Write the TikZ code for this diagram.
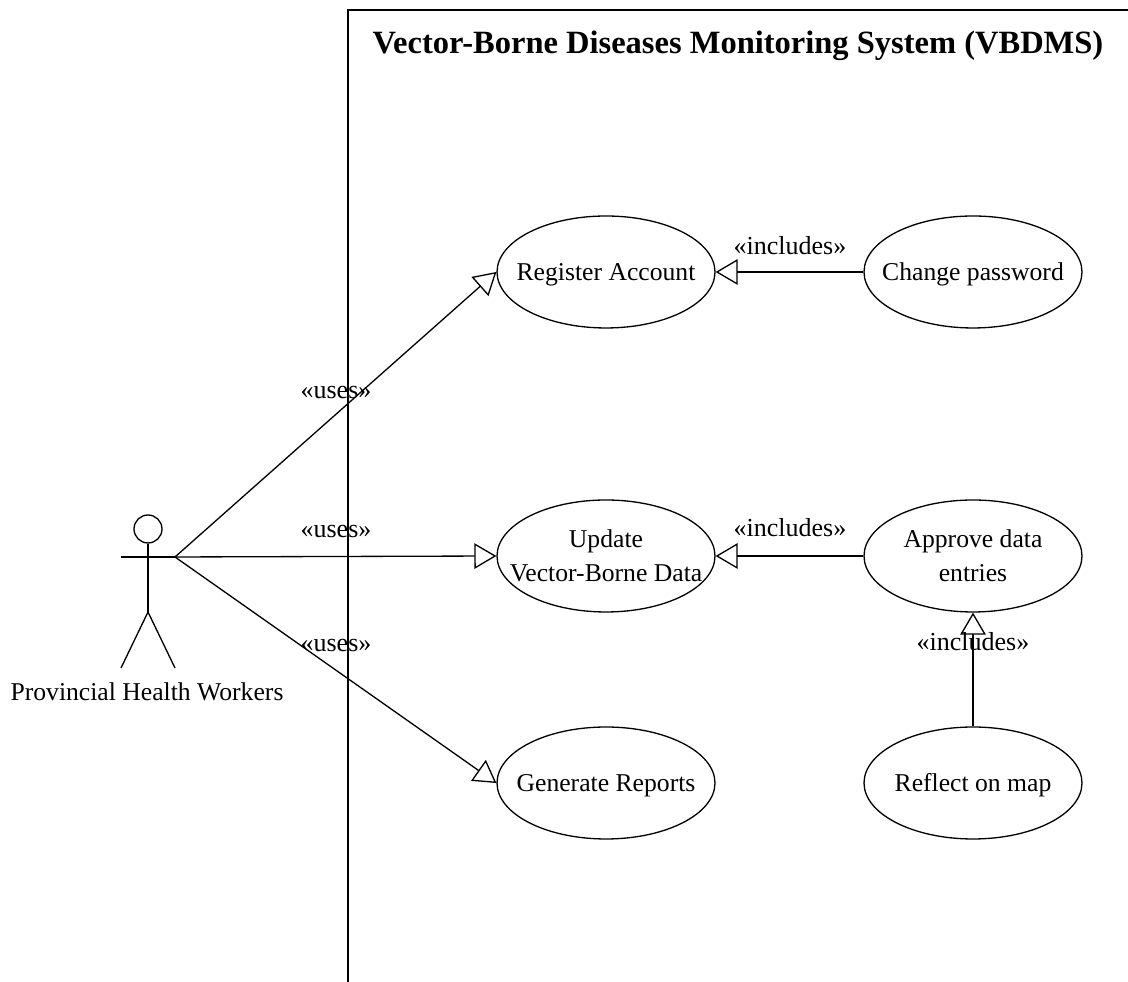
\documentclass[tikz,border=0pt]{standalone}
\usepackage{fontspec}
\setmainfont{Liberation Serif}
\usetikzlibrary{arrows.meta,shapes.geometric}
\tikzset{
  usecase/.style={draw,ellipse,minimum width=4.36cm,minimum height=2.24cm,inner xsep=-1cm,inner ysep=0pt,align=center,font=\fontsize{14.6}{19.4}\selectfont},
  oneline/.style={text height=13pt,text depth=3.2pt},
  gen/.style={-{Triangle[open,length=12.5pt,width=14.5pt]}},
  stereo/.style={font=\fontsize{14.8}{17}\selectfont,inner sep=0pt}
}
\begin{document}
\begin{tikzpicture}[x=0.02cm,y=0.02cm,line width=0.75pt]
      \useasboundingbox (0,0) rectangle (1128,982);
      % use cases
      \node[usecase,oneline](register) at (606,710){Register Account};
      \node[usecase,oneline](change) at (973,710){Change password};
      \node[usecase](update) at (606,426){Update\\Vector-Borne Data};
      \node[usecase](approve) at (973,426){Approve data\\entries};
      \node[usecase,oneline](reports) at (606,199){Generate Reports};
      \node[usecase,oneline](reflect) at (973,199){Reflect on map};
      % actor
      \coordinate(hand) at (175,425);
      \coordinate(handL) at (121,425);
      \coordinate(hip) at (148,370);
      \coordinate(footL) at (121,314);
      \coordinate(footR) at (175,314);
      \node[draw,circle,minimum size=0.56cm,inner sep=0pt](head) at (148,453){};
      \draw(head.south)--(hip);
      \draw(handL)--(hand);
      \draw(footL)--(hip)--(footR);
      \node[font=\fontsize{14.6}{17}\selectfont,inner sep=0pt](actor) at (147,290){Provincial Health Workers};
      % system border
      \coordinate(top) at (348,972);
      \coordinate(bottom) at (348,0);
      \coordinate(right) at (1128,972);
      \draw(bottom)--(top)--(right);
      \node[font=\bfseries\fontsize{18.5}{21}\selectfont,inner sep=0pt](title) at (738,936){Vector-Borne Diseases Monitoring System (VBDMS)};
      % connectors
      \draw[gen](hand)--(register.west);
      \draw[gen](hand)--(update.west);
      \draw[gen](hand)--(reports.west);
      \draw[gen](change)--(register);
      \draw[gen](approve)--(update);
      \draw[gen](reflect)--(approve);
      % labels
      \node[stereo](uses1) at (336,589){«uses»};
      \node[stereo](uses2) at (336,450){«uses»};
      \node[stereo](uses3) at (336,336){«uses»};
      \node[stereo](incl1) at (790,736){«includes»};
      \node[stereo](incl2) at (790,454){«includes»};
      \node[stereo](incl3) at (973,340){«includes»};
\end{tikzpicture}
\end{document}
